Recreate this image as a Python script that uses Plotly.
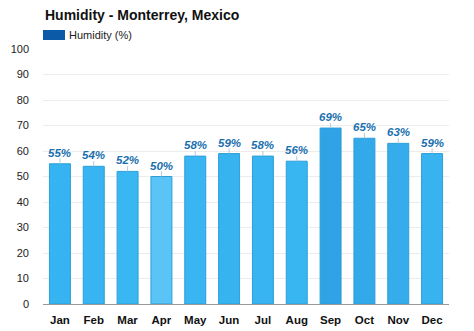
import plotly.graph_objects as go

months = ["Jan", "Feb", "Mar", "Apr", "May", "Jun", "Jul", "Aug", "Sep", "Oct", "Nov", "Dec"]
humidity = [55, 54, 52, 50, 58, 59, 58, 56, 69, 65, 63, 59]
labels = [f"{v}%" for v in humidity]
y_ticks = list(range(0, 101, 10))

bar_colors = ["#36b3f1", "#37b4f1", "#39b7f3", "#5bc4f6", "#38b5f2", "#37b3f0",
              "#37b4f1", "#38b6f2", "#2fa3e6", "#33a9ea", "#35adec", "#37b3f0"]
border_colors = ["#2c9fd8"] * 12

H = 331
TOP, BOT = 49, 304
PH = BOT - TOP
PW = 449 - 43


def py(px):
    return (BOT - px) / PH


fig = go.Figure()
fig.add_trace(go.Bar(
    x=months, y=humidity,
    width=0.62,
    marker=dict(color=bar_colors, line=dict(color=border_colors, width=1)),
    error_y=dict(type="data", symmetric=False, array=[2] * 12, arrayminus=[0] * 12,
                 width=0, thickness=1, color="#b5c9d8"),
    showlegend=False,
    hoverinfo="skip",
))

for m, v, t in zip(months, humidity, labels):
    fig.add_annotation(x=m, y=v, text=t, showarrow=False, yshift=11,
                       font=dict(family="Liberation Sans, Arial", size=11.5, color="#1a6fae",
                                 weight="bold", style="italic"))

fig.add_annotation(xref="paper", yref="paper", x=0, xanchor="left",
                   y=py(15), yanchor="middle",
                   text="<b>Humidity - Monterrey, Mexico</b>", showarrow=False,
                   font=dict(family="Liberation Sans, Arial", size=14, color="#111111"))
fig.add_annotation(xref="paper", yref="paper", x=24 / PW, xanchor="left",
                   y=py(35), yanchor="middle",
                   text="Humidity (%)", showarrow=False,
                   font=dict(family="Liberation Sans, Arial", size=11, color="#222222"))

fig.add_shape(type="rect", xref="paper", yref="paper",
              x0=0, x1=22 / PW, y0=py(40), y1=py(30),
              fillcolor="#0a5aa8", line=dict(width=0))

fig.update_layout(
    width=474, height=H,
    margin=dict(l=43, r=25, t=TOP, b=H - BOT),
    paper_bgcolor="white", plot_bgcolor="white",
    font=dict(family="Liberation Sans, Arial", size=11, color="#222222"),
    xaxis=dict(showgrid=False, showline=True, linecolor="#999999", linewidth=1,
               ticks="", tickfont=dict(size=11.5, color="#111111", weight="bold"),
               ticklabelstandoff=5, automargin=False, fixedrange=True),
    yaxis=dict(range=[0, 100], tickvals=y_ticks, showgrid=True, gridcolor="#ececec",
               gridwidth=1, zeroline=False, ticks="",
               tickfont=dict(size=11, color="#222222"), ticklabelstandoff=13,
               automargin=False, fixedrange=True),
)

fig.write_html("out.html")
